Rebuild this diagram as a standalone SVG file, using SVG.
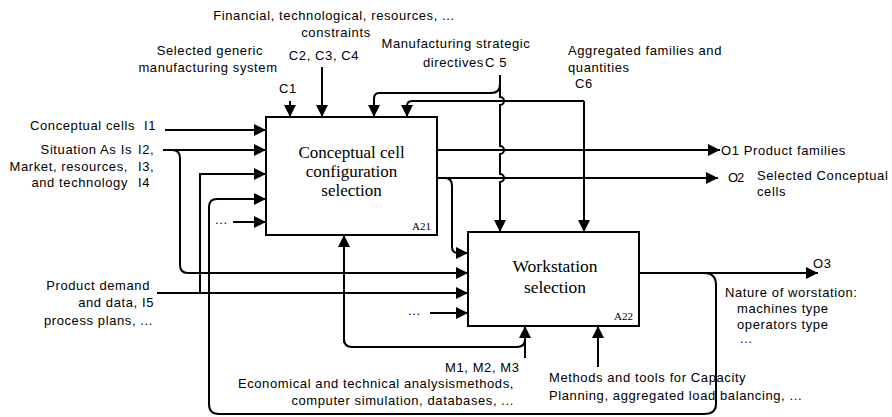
<svg xmlns="http://www.w3.org/2000/svg" width="892" height="417" viewBox="0 0 892 417">
<style>
.t{font-family:"Liberation Sans",Arial,sans-serif;font-size:13px;letter-spacing:0.6px;fill:#000}
.b{font-family:"Liberation Serif","Times New Roman",serif;font-size:17px;fill:#000;text-anchor:middle}
.id{font-family:"Liberation Serif","Times New Roman",serif;font-size:11px;fill:#000}
.box{fill:#fff;stroke:#000;stroke-width:2}
.c path{fill:none;stroke:#000;stroke-width:2}
.c path.a{marker-end:url(#ah)}
</style>
<defs>
<marker id="ah" markerUnits="userSpaceOnUse" markerWidth="12" markerHeight="12" refX="12" refY="6" orient="auto">
<path d="M0,0 L12,6 L0,12 Z" fill="#000"/>
</marker>
</defs>
<rect width="892" height="417" fill="#fff"/>
<g class="c" id="connectors">
<path class="a" d="M165,130 H266"/>
<path class="a" d="M163,150 H266"/>
<path class="a" d="M172,150 Q180,150 180,158 V265 Q180,273 188,273 H468"/>
<path class="a" d="M157,293 H468"/>
<path class="a" d="M200,293 V174 H266"/>
<path class="a" d="M233,222 H266"/>
<path class="a" d="M639,273 H818"/>
<path class="a" d="M704,273 Q716,273 716,285 V404 Q716,414 704,414 H219 Q209,414 209,404 V207 Q209,199 217,199 H266"/>
<path class="a" d="M290,101 V117"/>
<path class="a" d="M322,67 V117"/>
<path class="a" d="M500,75 V97 A4,4 0 0 1 500,105 V146 A4,4 0 0 1 500,154 V174 A4,4 0 0 1 500,182 V232"/>
<path class="a" d="M500,84 Q500,93 491,93 H379 Q374,93 374,99 V117"/>
<path class="a" d="M584,101 H412 Q407,101 407,106 V117"/>
<path class="a" d="M584,101 V232"/>
<path class="a" d="M437,150 H720"/>
<path class="a" d="M437,178 H718"/>
<path class="a" d="M445,178 Q452,178 452,186 V247 Q452,253 458,253 H468"/>
<path class="a" d="M344,343 V235"/>
<path d="M344,339 Q344,347 352,347 H517 Q525,347 525,339"/>
<path class="a" d="M525,358 V326"/>
<path class="a" d="M430,313 H468"/>
<path class="a" d="M598,367 V326"/>
</g>
<g id="A21">
<rect class="box" x="266" y="117" width="171" height="118"/>
<text class="b" x="351.5" y="158">Conceptual cell</text>
<text class="b" x="351.5" y="177">configuration</text>
<text class="b" x="351.5" y="196">selection</text>
<text class="id" x="412" y="230">A21</text>
</g>
<g id="A22">
<rect class="box" x="468" y="232" width="171" height="94"/>
<text class="b" x="555" y="272" style="font-size:17.5px">Workstation</text>
<text class="b" x="555" y="293" style="font-size:17.5px">selection</text>
<text class="id" x="614" y="320">A22</text>
</g>
<g id="controls">
<text class="t" x="334" y="20" text-anchor="middle">Financial, technological, resources, ...</text>
<text class="t" x="336" y="37" text-anchor="middle">constraints</text>
<text class="t" x="324" y="60" text-anchor="middle">C2, C3, C4</text>
<text class="t" x="210" y="55" text-anchor="middle">Selected generic</text>
<text class="t" x="208" y="72" text-anchor="middle">manufacturing system</text>
<text class="t" x="279" y="93">C1</text>
<text class="t" x="456" y="48" text-anchor="middle">Manufacturing strategic</text>
<text class="t" x="423" y="67">directives</text>
<text class="t" x="485" y="67">C 5</text>
<text class="t" x="568" y="55">Aggregated families and</text>
<text class="t" x="568" y="72">quantities</text>
<text class="t" x="575" y="88">C6</text>
</g>
<g id="inputs">
<text class="t" x="135" y="130" text-anchor="end">Conceptual cells</text>
<text class="t" x="144" y="130">I1</text>
<text class="t" x="132" y="154" text-anchor="end">Situation As Is</text>
<text class="t" x="138" y="154">I2,</text>
<text class="t" x="128" y="171" text-anchor="end">Market, resources,</text>
<text class="t" x="138" y="171">I3,</text>
<text class="t" x="128" y="187" text-anchor="end">and technology</text>
<text class="t" x="138" y="187">I4</text>
<text class="t" x="215" y="224">...</text>
<text class="t" x="150" y="290" text-anchor="end">Product demand</text>
<text class="t" x="154" y="307" text-anchor="end">and data, I5</text>
<text class="t" x="153" y="325" text-anchor="end">process plans, ...</text>
<text class="t" x="408" y="315">...</text>
</g>
<g id="outputs">
<text class="t" x="721" y="155">O1 Product families</text>
<text class="t" x="728" y="182" style="letter-spacing:-1px">O2</text>
<text class="t" x="757" y="180">Selected Conceptual</text>
<text class="t" x="757" y="196">cells</text>
<text class="t" x="813" y="268">O3</text>
<text class="t" x="725" y="297">Nature of worstation:</text>
<text class="t" x="737" y="313">machines type</text>
<text class="t" x="737" y="329">operators type</text>
<text class="t" x="740" y="343">...</text>
</g>
<g id="mechanisms">
<text class="t" x="445" y="372">M1, M2, M3</text>
<text class="t" x="514" y="388" text-anchor="end">Economical and technical analysismethods,</text>
<text class="t" x="514" y="405" text-anchor="end">computer simulation, databases, ...</text>
<text class="t" x="549" y="382">Methods and tools for Capacity</text>
<text class="t" x="549" y="400">Planning, aggregated load balancing, ...</text>
</g>
</svg>
